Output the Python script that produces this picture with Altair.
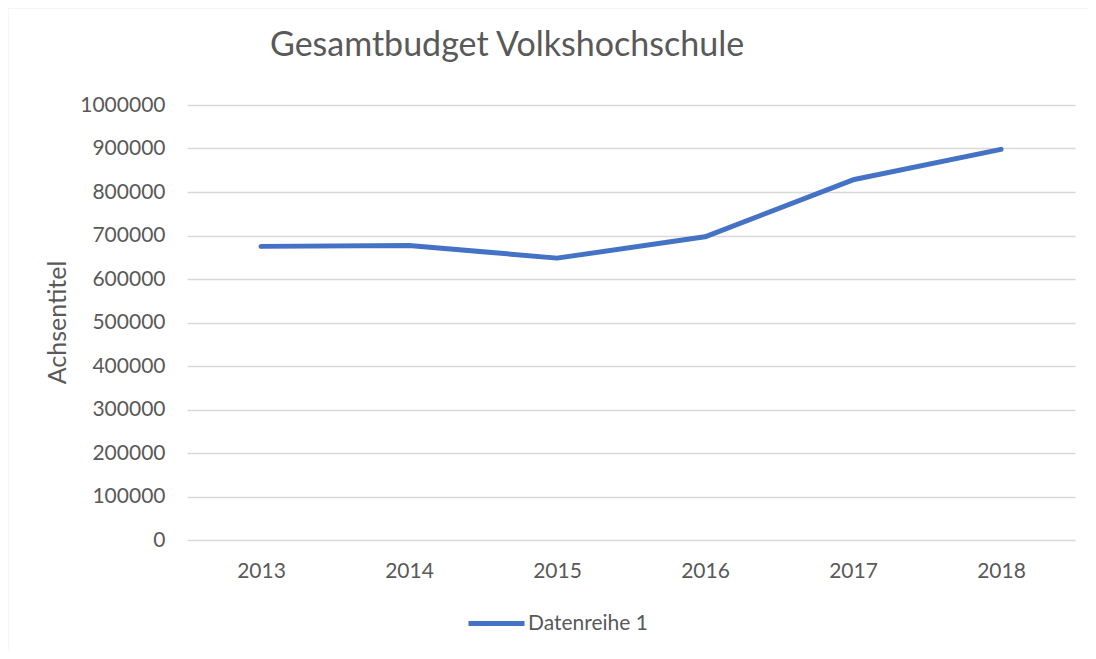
import altair as alt
import pandas as pd

years = ["2013", "2014", "2015", "2016", "2017", "2018"]
budget = [675000, 677000, 648000, 697000, 828000, 898000]
series_name = ["Datenreihe 1"] * 6
y_ticks = [0, 100000, 200000, 300000, 400000, 500000, 600000, 700000, 800000, 900000, 1000000]

df = pd.DataFrame({"Jahr": years, "Budget": budget, "Serie": series_name})

FONT = "Lato"
GREY = "#595959"
GRID = "#D9D9D9"

line = alt.Chart(df).mark_line(strokeWidth=5, strokeCap="round", strokeJoin="round").encode(
    x=alt.X("Jahr:N", sort=years, scale=alt.Scale(type="point", padding=0.5),
            axis=alt.Axis(title=None, labelAngle=0, ticks=False, domain=False,
                          labelFontSize=21, labelColor=GREY, labelFont=FONT, labelPadding=20)),
    y=alt.Y("Budget:Q", scale=alt.Scale(domain=[0, 1000000], nice=False),
            axis=alt.Axis(title="Achsentitel", values=y_ticks, format="d", ticks=False, domain=False,
                          grid=True, gridColor=GRID, gridWidth=1.3,
                          labelFontSize=21, labelColor=GREY, labelFont=FONT, labelPadding=22,
                          titleFontSize=25, titleColor=GREY, titleFont=FONT, titleFontWeight="normal",
                          titleX=-130, titleY=217, titleBaseline="middle", titleAngle=270)),
    color=alt.Color("Serie:N", scale=alt.Scale(range=["#4472C4"]),
                    legend=alt.Legend(title=None, orient="none", legendX=279, legendY=488,
                                      symbolType="stroke", symbolSize=3136, symbolStrokeWidth=5,
                                      labelFontSize=21, labelColor=GREY, labelFont=FONT, labelOffset=1)),
)

frame_df = pd.DataFrame({"k": [0]})
left_border = alt.Chart(frame_df).mark_rule(color=GRID, strokeWidth=1.5).encode(
    x=alt.value(-179.5), y=alt.value(-97.5), y2=alt.value(560))
top_border = alt.Chart(frame_df).mark_rule(color=GRID, strokeWidth=1.5).encode(
    x=alt.value(-179.5), x2=alt.value(905), y=alt.value(-97.5))

chart = alt.layer(left_border, top_border, line).properties(
    width=888, height=435,
    autosize=alt.AutoSizeParams(type="none"),
    padding={"left": 179, "top": 97, "right": 13, "bottom": 110},
    title=alt.TitleParams("Gesamtbudget Volkshochschule", anchor="start", frame="group",
                          dx=83, offset=0, dy=83, baseline="alphabetic",
                          fontSize=34, font=FONT, fontWeight="normal", color=GREY),
).configure_view(stroke=None)

chart.save("out.html", embed_options={"renderer": "svg", "actions": False})
